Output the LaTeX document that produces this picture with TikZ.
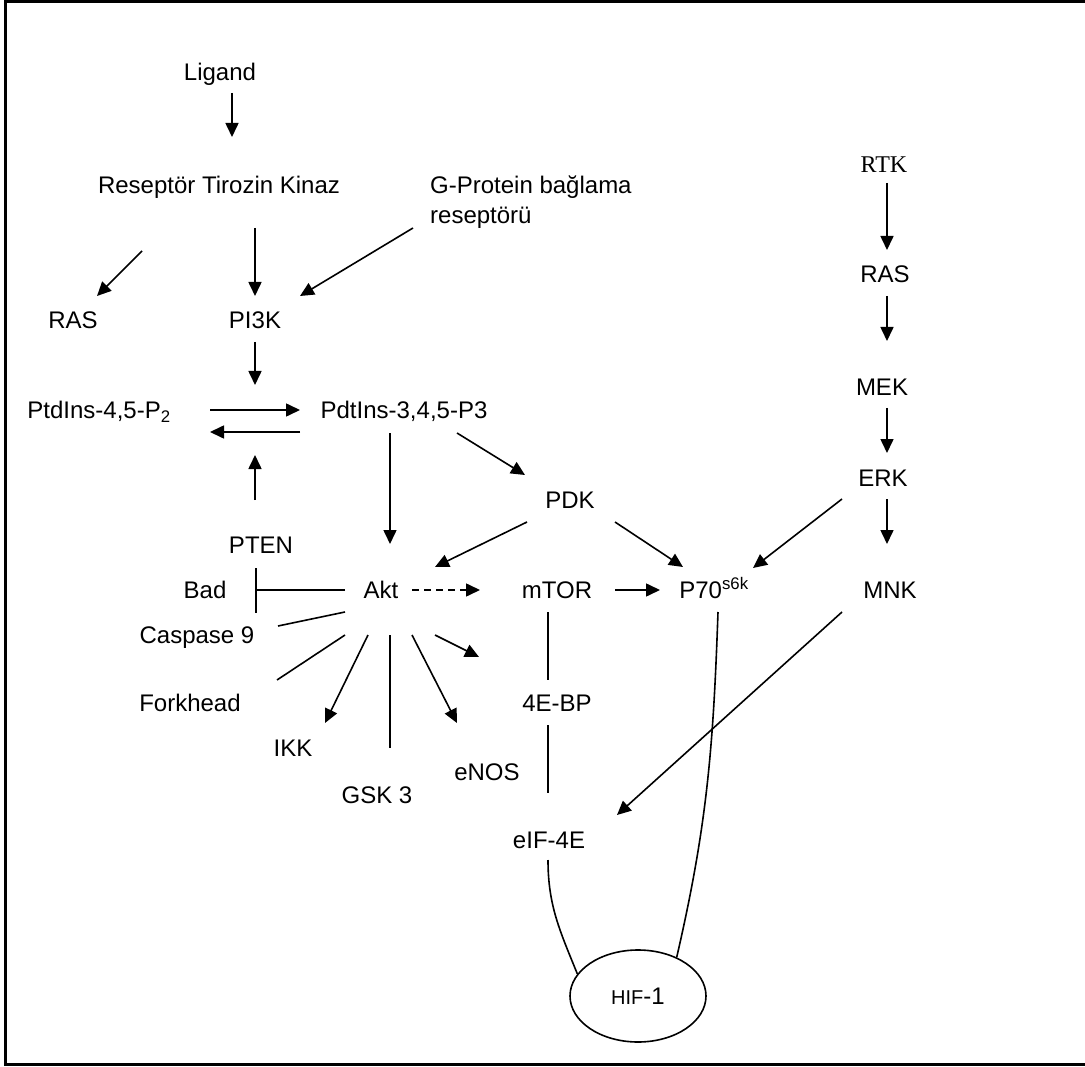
\documentclass[tikz,border=0pt]{standalone}
\usepackage{fontspec}
\setmainfont{Liberation Sans}
\newfontfamily\seriffont{Liberation Serif}
\usetikzlibrary{arrows.meta,calc,shapes.geometric}

\begin{document}
\begin{tikzpicture}[x=1pt,y=-1pt]
\tikzstyle{lbl}=[inner sep=0pt, text height=17pt, text depth=0pt, font=\fontsize{24}{30}\selectfont]
\tikzstyle{arr}=[line width=1.6pt, -{Triangle[length=14pt,width=13pt]}]
\tikzstyle{con}=[line width=1.6pt]
\tikzstyle{inh}=[line width=1.6pt, -{Bar[width=45pt]}]
\useasboundingbox (0,0) rectangle (1085,1067);
\draw[line width=3pt] (1090,2) -- (5,2) -- (5,1064) -- (1090,1064);

% PI3K / Akt side
\node[lbl] (lig) at (220,72) {Ligand};
\node[lbl] (rtk) at (219,185) {Reseptör Tirozin Kinaz};
\node[inner sep=0pt, anchor=west, align=left, font=\fontsize{24}{30}\selectfont] (gpr) at (430,202) {G-Protein bağlama\\reseptörü};
\node[lbl] (ras1) at (73,320) {RAS};
\node[lbl] (pi3k) at (255,320) {PI3K};
\node[lbl] (pip2) at (99,410) {PtdIns-4,5-P\textsubscript{2}};
\node[lbl] (pip3) at (404,410) {PdtIns-3,4,5-P3};
\coordinate (conv) at (255,421);
\node[lbl] (pdk) at (570,500) {PDK};
\node[lbl] (pten) at (261,545) {PTEN};
\node[lbl] (bad) at (205,590) {Bad};
\node[lbl] (akt) at (381,590) {Akt};
\node[lbl] (casp) at (197,635) {Caspase 9};
\node[lbl] (fork) at (190,703) {Forkhead};
\node[lbl] (ikk) at (293,748) {IKK};
\node[lbl] (gsk) at (377,795) {GSK 3};
\node[lbl] (enos) at (487,772) {eNOS};
\coordinate (aktx) at (479,657);
\node[lbl] (mtor) at (557,590) {mTOR};
\node[lbl] (p70) at (714,590) {P70\textsuperscript{s6k}};
\node[lbl] (bp) at (557,703) {4E-BP};
\node[lbl] (eif) at (549,840) {eIF-4E};
\node[draw, ellipse, line width=1.6pt, inner sep=0pt, minimum width=136pt, minimum height=92pt, font=\fontsize{24}{30}\selectfont] (hif) at (638,996) {{\fontsize{20}{24}\selectfont HIF}-1};

% MAPK side
\node[lbl, font=\fontsize{24}{30}\selectfont\seriffont] (rtk2) at (884,164) {RTK};
\node[lbl] (ras2) at (885,274) {RAS};
\node[lbl] (mek) at (882,387) {MEK};
\node[lbl] (erk) at (883,478) {ERK};
\node[lbl] (mnk) at (890,590) {MNK};

\draw[arr] ($(lig)+(12,21)$) -- ($(rtk)+(13,-48)$);
\draw[arr] ($(rtk)+(-77,66)$) -- ($(ras1)+(24,-24)$);
\draw[arr] ($(rtk)+(36,43)$) -- ($(pi3k)+(0,-24)$);
\draw[arr] ($(gpr.west)+(-17,26)$) -- ($(pi3k)+(45,-24)$);
\draw[arr] ($(pi3k)+(0,22)$) -- ($(conv)+(0,-36)$);
\draw[arr] ($(pip2)+(111,0)$) -- ($(pip3)+(-104,0)$);
\draw[arr] ($(pip3)+(-104,22)$) -- ($(pip2)+(111,22)$);
\draw[arr] ($(pten)+(-6,-45)$) -- ($(conv)+(0,34)$);
\draw[arr] ($(pip3)+(-14,23)$) -- ($(akt)+(9,-46)$);
\draw[arr] ($(pip3)+(53,23)$) -- ($(pdk)+(-45,-25)$);
\draw[arr] ($(pdk)+(-43,22)$) -- ($(akt)+(54,-23)$);
\draw[arr] ($(pdk)+(45,22)$) -- ($(p70)+(-31,-23)$);
\draw[arr] ($(erk)+(-41,21)$) -- ($(p70)+(39,-22)$);
\draw[arr, dash pattern=on 7pt off 5pt] ($(akt)+(31,0)$) -- ($(mtor)+(-77,0)$);
\draw[arr] ($(mtor)+(58,0)$) -- ($(p70)+(-54,0)$);
\draw[inh] ($(akt)+(-36,0)$) -- ($(bad)+(50,0)$);
\draw[con] ($(akt)+(-36,22)$) -- ($(casp)+(81,-9)$);
\draw[con] ($(akt)+(-36,45)$) -- ($(fork)+(87,-23)$);
\draw[arr] ($(akt)+(-13,45)$) -- ($(ikk)+(32,-25)$);
\draw[con] ($(akt)+(9,45)$) -- ($(gsk)+(13,-47)$);
\draw[arr] ($(akt)+(31,45)$) -- ($(enos)+(-30,-49)$);
\draw[arr] ($(akt)+(54,45)$) -- (aktx);
\draw[con] ($(mtor)+(-9,22)$) -- ($(bp)+(-9,-23)$);
\draw[con] ($(bp)+(-9,22)$) -- ($(eif)+(-1,-47)$);

\draw[arr] ($(rtk2)+(3,19)$) -- ($(ras2)+(2,-24)$);
\draw[arr] ($(ras2)+(2,22)$) -- ($(mek)+(5,-46)$);
\draw[arr] ($(mek)+(5,21)$) -- ($(erk)+(4,-25)$);
\draw[arr] ($(erk)+(4,21)$) -- ($(mnk)+(-3,-46)$);
\draw[arr] ($(mnk)+(-48,22)$) -- ($(eif)+(68,-25)$);

\draw[con] ($(p70)+(4,22)$) to[out=-92,in=77] (hif.45);
\draw[con] ($(eif)+(-1,20)$) to[out=-90,in=112] (hif.160);
\end{tikzpicture}
\end{document}
